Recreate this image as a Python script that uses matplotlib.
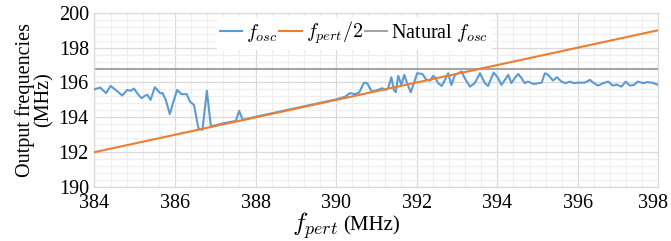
import matplotlib
matplotlib.use("Agg")
import matplotlib.pyplot as plt
from matplotlib.ticker import MultipleLocator
from matplotlib.transforms import ScaledTranslation

plt.rcParams['font.family'] = ['Liberation Serif', 'DejaVu Serif']
plt.rcParams['mathtext.fontset'] = 'cm'

# --- data ---
f_pert = [384, 398]
f_pert_half = [192.0, 199.0]
natural_fosc = 196.8

fosc_x = [384.01, 384.14, 384.29, 384.40, 384.55, 384.69, 384.81, 384.90, 384.98, 385.09,
          385.17, 385.25, 385.31, 385.39, 385.50, 385.63, 385.69, 385.77, 385.87, 385.96,
          386.05, 386.16, 386.29, 386.37, 386.47, 386.58, 386.68, 386.79, 386.89, 387.20,
          387.51, 387.59, 387.68, 388.00, 388.50, 389.00, 389.50, 390.00, 390.22, 390.34,
          390.46, 390.57, 390.69, 390.77, 390.88, 390.96, 391.04, 391.13, 391.23, 391.29,
          391.37, 391.43, 391.48, 391.54, 391.62, 391.69, 391.76, 391.85, 391.93, 392.01,
          392.14, 392.24, 392.33, 392.41, 392.45, 392.53, 392.62, 392.70, 392.78, 392.86,
          392.95, 393.03, 393.11, 393.19, 393.32, 393.44, 393.57, 393.69, 393.77, 393.91,
          394.02, 394.10, 394.19, 394.27, 394.35, 394.43, 394.52, 394.60, 394.68, 394.76,
          394.89, 394.93, 395.10, 395.18, 395.26, 395.38, 395.48, 395.59, 395.70, 395.80,
          395.90, 396.01, 396.17, 396.30, 396.38, 396.50, 396.63, 396.75, 396.87, 396.97,
          397.08, 397.19, 397.29, 397.39, 397.49, 397.62, 397.72, 397.83, 397.93, 397.99]
fosc_y = [195.61, 195.71, 195.39, 195.80, 195.53, 195.25, 195.57, 195.52, 195.65, 195.29,
          195.10, 195.23, 195.30, 195.00, 195.73, 195.39, 195.39, 195.00, 194.18, 194.90,
          195.57, 195.33, 195.33, 194.90, 194.71, 193.37, 193.28, 195.52, 193.47, 193.66,
          193.79, 194.37, 193.85, 194.03, 194.28, 194.53, 194.78, 195.03, 195.18, 195.39,
          195.33, 195.42, 195.99, 195.96, 195.48, 195.53, 195.57, 195.67, 195.57, 195.67,
          196.30, 195.57, 195.44, 196.38, 195.86, 196.44, 195.96, 195.44, 195.96, 196.53,
          196.49, 196.15, 196.11, 196.38, 196.30, 195.96, 195.80, 196.15, 196.53, 195.86,
          196.44, 196.53, 196.63, 196.25, 195.76, 195.96, 196.53, 195.96, 195.80, 196.57,
          196.25, 195.86, 196.15, 196.44, 195.96, 196.25, 196.49, 196.25, 195.96, 196.05,
          195.92, 195.92, 195.99, 196.53, 196.44, 196.11, 196.30, 196.05, 195.96, 196.05,
          195.96, 195.99, 195.99, 196.15, 195.99, 195.82, 195.96, 196.05, 195.82, 195.88,
          195.76, 196.05, 195.82, 195.86, 196.05, 195.96, 196.02, 195.99, 195.92, 195.86]

xticks = [384, 386, 388, 390, 392, 394, 396, 398]
yticks = [190, 192, 194, 196, 198, 200]

fig = plt.figure(figsize=(6.71, 2.41), dpi=100)
ax = fig.add_axes([0.1408, 0.224, 0.8405, 0.723])

ax.plot(fosc_x, fosc_y, color='#5B9BD5', lw=1.5, label=r'$f_{osc}$', zorder=3,
        solid_joinstyle='round')
ax.plot(f_pert, f_pert_half, color='#ED7D31', lw=1.5, label=r'$f_{pert}/2$', zorder=4)
ax.axhline(natural_fosc, color='#A5A5A5', lw=1.5, label=r'Natural $f_{osc}$', zorder=2)

ax.set_xlim(384, 398)
ax.set_ylim(190, 200)
ax.set_xticks(xticks)
ax.set_yticks(yticks)
ax.xaxis.set_minor_locator(MultipleLocator(0.4))
ax.yaxis.set_minor_locator(MultipleLocator(0.4))
ax.grid(which='major', color='#d9d9d9', lw=0.9)
ax.grid(which='minor', color='#eeeeee', lw=0.8)
ax.set_axisbelow(True)
ax.tick_params(which='both', length=0, labelsize=14.5, colors='black')
ax.tick_params(axis='x', pad=5)
ax.tick_params(axis='y', pad=4)
for s in ax.spines.values():
    s.set_color('#d9d9d9')
    s.set_linewidth(0.9)

fig.canvas.draw()
last = ax.get_xticklabels()[-1]
last.set_transform(last.get_transform() + ScaledTranslation(-5 / 100, 0, fig.dpi_scale_trans))

# x-axis label: larger math symbol followed by unit
ax.text(0.432, -0.25, r'$f_{pert}$', transform=ax.transAxes, fontsize=18.5,
        ha='right', va='baseline')
ax.text(0.440, -0.25, '(MHz)', transform=ax.transAxes, fontsize=15,
        ha='left', va='baseline')
ax.set_ylabel('Output frequencies\n(MHz)', fontsize=14.5, labelpad=4, linespacing=0.95)

leg = ax.legend(loc='upper center', bbox_to_anchor=(0.46, 0.99), ncol=3, frameon=True,
                fontsize=14.5, handlelength=1.1, handletextpad=0.2, columnspacing=0.1,
                borderpad=0.15, borderaxespad=0.1, fancybox=False)
leg.get_frame().set_edgecolor('white')
leg.get_frame().set_facecolor('white')
leg.get_frame().set_alpha(1)

fig.savefig('out.png', dpi=100)
